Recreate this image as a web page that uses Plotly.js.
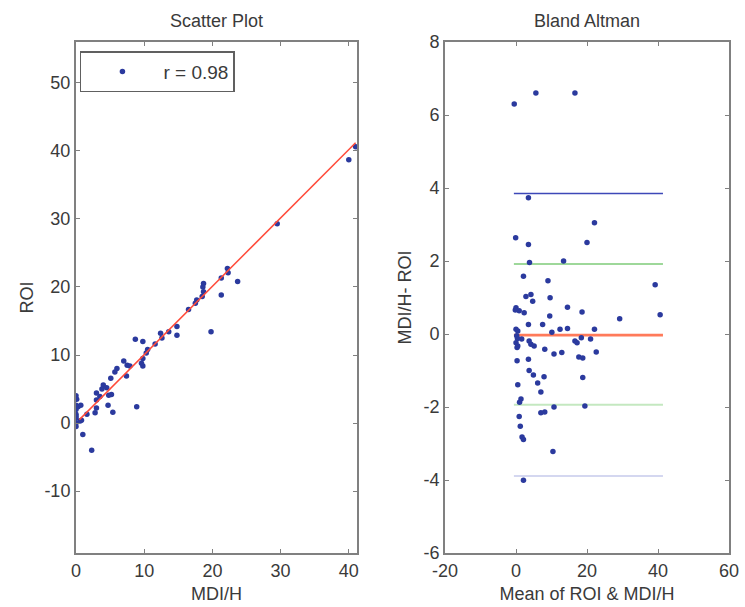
<!DOCTYPE html>
<html>
<head>
<meta charset="utf-8">
<script src="https://cdn.plot.ly/plotly-3.0.1.min.js"></script>
<style>html,body{margin:0;padding:0;background:#fff;}#chart{width:745px;height:607px;}</style>
</head>
<body>
<div id="chart"></div>
<script>
// ---- Scatter plot data (MDI/H vs ROI) ----
const mdiH = [22.2,22.3,23.7,21.3,21.3,18.7,18.6,18.7,18.5,17.7,17.5,16.5,19.8,14.8,14.8,13.6,12.4,12.6,11.6,10.5,10.3,8.7,9.8,9.8,9.8,9.6,8.9,7.0,7.5,7.9,7.4,6.0,5.7,5.1,4.0,4.5,3.8,3.0,3.5,3.0,4.8,5.2,4.7,5.4,2.8,3.0,1.6,0.8,1.0,2.3,0.0,0.1,0.0,0.0,0.3,0.7,0.0,0.0,0.0,0.0,0.6,0.0,29.5,40.0,41.0];
const roi  = [22.7,22.1,20.8,21.3,18.8,20.5,20.0,19.3,18.6,18.1,17.6,16.7,13.4,14.2,12.9,13.4,13.2,12.5,11.6,10.8,10.3,12.3,12.0,9.5,8.4,8.8,2.4,9.1,8.5,8.4,6.9,8.0,7.5,6.6,5.6,5.2,5.0,4.4,3.9,3.4,4.1,4.2,2.6,1.6,1.5,2.2,1.3,0.4,-1.7,-4.0,4.0,3.5,2.6,2.0,2.4,2.6,1.3,0.7,0.0,-0.5,0.3,1.0,29.3,38.7,40.6];
const fitX = [0.5, 41.0];
const fitY = [0.5, 41.2];
const legendLabel = 'r = 0.98';

// tick values and labels
const scatterXTicks = [0, 10, 20, 30, 40];
const scatterYTicks = [-10, 0, 10, 20, 30, 40, 50];
const scatterYLabels = ['-10', '0', '10', '20', '30', '40', '50'];
const baXTicks = [-20, 0, 20, 40, 60];
const baXLabels = ['-20', '0', '20', '40', '60'];
const baYTicks = [-6, -4, -2, 0, 2, 4, 6, 8];
const baYLabels = ['-6', '-4', '-2', '0', '2', '4', '6', '8'];

// ---- Bland Altman data ----
const baMean = [-0.5,5.6,16.6,3.5,22.1,-0.1,3.5,20.0,3.8,13.4,2.1,9.0,39.2,2.8,4.2,4.7,9.6,0.0,0.9,2.3,14.5,9.5,18.6,29.2,40.6,0.0,0.5,3.5,7.5,10.1,12.4,14.5,22.1,0.2,0.0,0.3,3.7,4.2,5.1,8.1,10.7,12.9,16.6,17.2,18.4,21.0,22.6,17.7,18.8,0.3,3.5,3.7,4.9,7.9,6.1,18.8,0.5,7.0,1.4,1.0,7.0,8.1,10.7,19.4,0.9,1.2,1.7,2.1,10.4,2.1,0.5,1.6,-0.2,0.4];
const baDiff = [6.30,6.60,6.60,3.73,3.05,2.64,2.45,2.51,1.96,2.00,1.58,1.46,1.35,1.03,1.08,0.90,0.99,0.72,0.64,0.58,0.73,0.49,0.60,0.42,0.53,0.13,0.08,0.26,0.26,0.05,0.13,0.15,0.13,-0.05,-0.24,-0.37,-0.19,-0.28,-0.33,-0.42,-0.55,-0.51,-0.19,-0.24,-0.10,-0.14,-0.49,-0.63,-0.66,-0.73,-0.69,-1.00,-1.12,-1.17,-1.34,-1.19,-1.39,-1.59,-1.78,-1.87,-2.16,-2.14,-2.00,-1.97,-2.26,-2.53,-2.82,-2.89,-3.22,-4.01,-0.33,-0.14,0.66,-0.12];
const limitX = [-0.6, 41.4];
const meanDiffValue = -0.03;
const innerLimits = [1.92, -1.94];
const outerLimits = [3.85, -3.89];

const dotColor = '#2b3a9e';
const fontFam = 'Liberation Sans, Arial, sans-serif';
const txtColor = '#3a3a3a';
const fs = 18;

const traces = [
  {x: mdiH, y: roi, type: 'scatter', mode: 'markers', name: legendLabel, showlegend: true,
   marker: {color: dotColor, size: 5.5}, xaxis: 'x', yaxis: 'y'},
  {x: fitX, y: fitY, type: 'scatter', mode: 'lines', showlegend: false,
   line: {color: '#ff4b3a', width: 1.5}, xaxis: 'x', yaxis: 'y'},
  {x: limitX, y: [outerLimits[0], outerLimits[0]], type: 'scatter', mode: 'lines', showlegend: false,
   line: {color: '#3d48b8', width: 1.3}, xaxis: 'x2', yaxis: 'y2'},
  {x: limitX, y: [outerLimits[1], outerLimits[1]], type: 'scatter', mode: 'lines', showlegend: false,
   line: {color: '#aab0e2', width: 1.2}, xaxis: 'x2', yaxis: 'y2'},
  {x: limitX, y: [innerLimits[0], innerLimits[0]], type: 'scatter', mode: 'lines', showlegend: false,
   line: {color: '#9ed89a', width: 2}, xaxis: 'x2', yaxis: 'y2'},
  {x: limitX, y: [innerLimits[1], innerLimits[1]], type: 'scatter', mode: 'lines', showlegend: false,
   line: {color: '#c4e8c0', width: 2}, xaxis: 'x2', yaxis: 'y2'},
  {x: limitX, y: [meanDiffValue, meanDiffValue], type: 'scatter', mode: 'lines', showlegend: false,
   line: {color: '#ff7a5a', width: 2.6}, xaxis: 'x2', yaxis: 'y2'},
  {x: baMean, y: baDiff, type: 'scatter', mode: 'markers', showlegend: false,
   marker: {color: dotColor, size: 5.5}, xaxis: 'x2', yaxis: 'y2'}
];

const axBase = {
  showgrid: false, zeroline: false, showline: true, linecolor: '#808080', linewidth: 2,
  mirror: 'allticks', ticks: 'inside', ticklen: 4, tickcolor: '#808080', tickwidth: 1,
  tickmode: 'array',
  tickfont: {family: fontFam, size: fs, color: txtColor}, automargin: false, fixedrange: true
};
const titleFont = {family: fontFam, size: fs, color: txtColor};

const layout = {
  width: 745, height: 607,
  margin: {l: 76, r: 16, t: 42, b: 54},
  paper_bgcolor: '#ffffff', plot_bgcolor: '#ffffff',
  font: {family: fontFam, size: fs, color: txtColor},
  showlegend: true,
  legend: {x: 0.006, y: 0.982, xanchor: 'left', yanchor: 'top', bgcolor: '#ffffff',
    bordercolor: '#606060', borderwidth: 1.5, itemwidth: 72,
    font: {family: fontFam, size: 19, color: txtColor}},
  xaxis: Object.assign({}, axBase, {domain: [0, 0.4303], range: [0, 41.2], tickvals: scatterXTicks,
    ticktext: scatterXTicks.map(String),
    anchor: 'y', title: {text: 'MDI/H', font: titleFont, standoff: 8}}),
  yaxis: Object.assign({}, axBase, {domain: [0, 1], range: [-19.1, 56], tickvals: scatterYTicks,
    ticktext: scatterYLabels,
    anchor: 'x', title: {text: 'ROI', font: titleFont, standoff: 6}}),
  xaxis2: Object.assign({}, axBase, {domain: [0.5651, 1], range: [-20, 60], tickvals: baXTicks,
    ticktext: baXLabels,
    anchor: 'y2', title: {text: 'Mean of ROI & MDI/H', font: titleFont, standoff: 8}}),
  yaxis2: Object.assign({}, axBase, {domain: [0, 1], range: [-6, 8], tickvals: baYTicks,
    ticktext: baYLabels,
    anchor: 'x2', title: {text: 'MDI/H- ROI', font: titleFont, standoff: 7}}),
  annotations: [
    {text: 'Scatter Plot', xref: 'x domain', yref: 'y domain', x: 0.5, y: 1, xanchor: 'center', yanchor: 'bottom',
     yshift: 9, showarrow: false, font: titleFont},
    {text: 'Bland Altman', xref: 'x2 domain', yref: 'y2 domain', x: 0.5, y: 1, xanchor: 'center', yanchor: 'bottom',
     yshift: 9, showarrow: false, font: titleFont}
  ]
};

Plotly.newPlot('chart', traces, layout, {staticPlot: true, displayModeBar: false});
</script>
</body>
</html>
